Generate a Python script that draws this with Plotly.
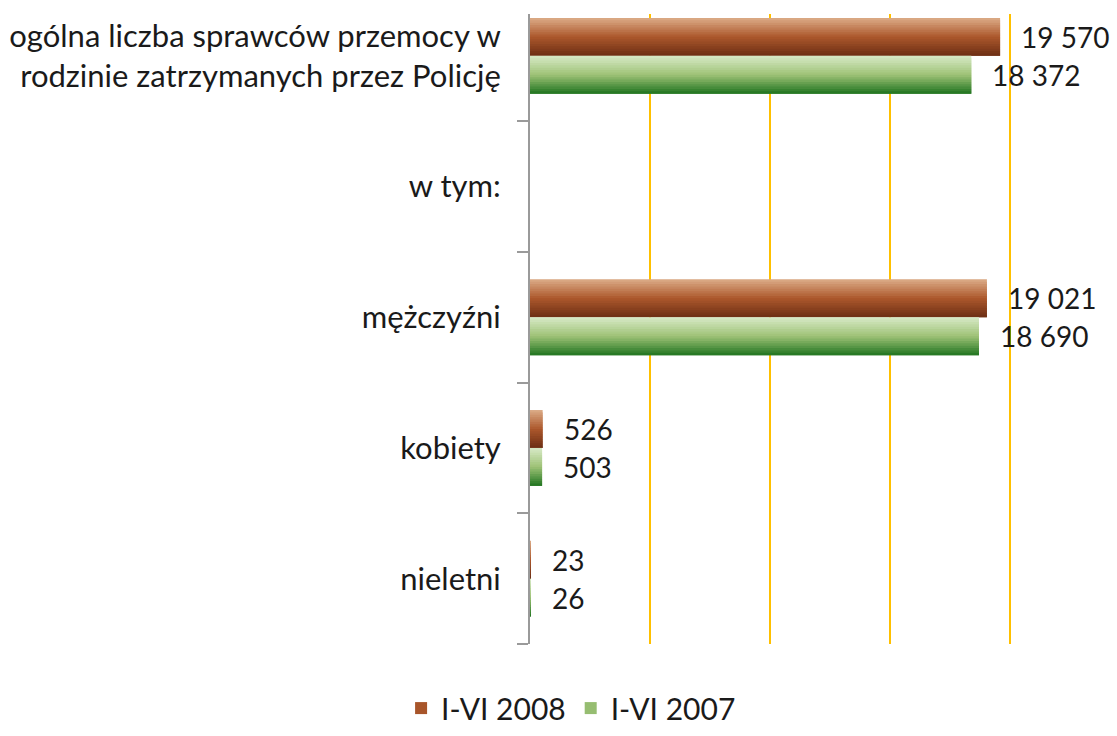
import plotly.graph_objects as go

# ---- data ----
categories = [
    "ogólna liczba sprawców przemocy w<br>rodzinie zatrzymanych przez Policję",
    "w tym:",
    "mężczyźni",
    "kobiety",
    "nieletni",
]
values_2008 = [19570, None, 19021, 526, 23]
values_2007 = [18372, None, 18690, 503, 26]
series_names = ["I-VI 2008", "I-VI 2007"]
grid_values = [5000, 10000, 15000, 20000]

# ---- styling ----
FONT = "Lato, Carlito, Calibri, 'Open Sans', sans-serif"
brown_stops = [(0.0, (220, 172, 136)), (0.5, (172, 88, 44)), (1.0, (108, 46, 20))]
green_stops = [(0.0, (216, 234, 200)), (0.5, (158, 194, 118)), (1.0, (32, 116, 32))]
BAR_T = 0.29          # thickness of one bar (category units)
N_SLICES = 16


def interp(stops, t):
    for (t0, c0), (t1, c1) in zip(stops[:-1], stops[1:]):
        if t0 <= t <= t1:
            f = (t - t0) / (t1 - t0) if t1 > t0 else 0
            return "rgb(%d,%d,%d)" % tuple(round(a + (b - a) * f) for a, b in zip(c0, c1))
    return "rgb(%d,%d,%d)" % stops[-1][1]


axis_order = list(reversed(categories))  # bottom -> top
fig = go.Figure()

series = [
    (series_names[0], values_2008, brown_stops, 0.0),       # bar above category center
    (series_names[1], values_2007, green_stops, -BAR_T),    # bar below category center
]

w = BAR_T / N_SLICES
for name, vals, stops, base in series:
    for j in range(N_SLICES):
        t = (j + 0.5) / N_SLICES
        top = base + BAR_T - j * w
        height = w * 2 if j < N_SLICES - 1 else w
        fig.add_trace(go.Bar(
            x=vals, y=categories, orientation="h",
            width=height, offset=top - height,
            marker=dict(color=interp(stops, t), line=dict(width=0)),
            name=name, legendgroup=name,
            showlegend=(j == N_SLICES // 2),
            hoverinfo="skip",
        ))

# value labels
for name, vals, stops, base in series:
    for cat, v in zip(categories, vals):
        if v is None:
            continue
        idx = axis_order.index(cat)
        fig.add_annotation(
            x=v, y=idx + base + BAR_T / 2,
            xref="x", yref="y",
            text=f"{v:,}".replace(",", " "),
            showarrow=False, xanchor="left", yanchor="middle",
            xshift=19,
            font=dict(family=FONT, size=28, color="#1a1a1a"),
        )

fig.update_layout(
    width=1117, height=736,
    autosize=False,
    margin=dict(l=530, r=0, t=14, b=92),
    paper_bgcolor="white", plot_bgcolor="white",
    barmode="overlay",
    font=dict(family=FONT, size=30, color="#1a1a1a"),
    showlegend=True,
    legend=dict(
        orientation="h", x=0.07, xanchor="center",
        y=-0.143, yanchor="bottom",
        font=dict(family=FONT, size=30, color="#1a1a1a"),
        traceorder="normal", itemwidth=30,
        bgcolor="rgba(0,0,0,0)",
    ),
)

fig.update_xaxes(
    range=[0, 24437],
    tickmode="array", tickvals=grid_values,
    showticklabels=False,
    showgrid=True, gridcolor="#FFC000", gridwidth=1.5,
    zeroline=False, showline=False, ticks="",
    automargin=False,
)

fig.update_yaxes(
    type="category",
    categoryorder="array", categoryarray=axis_order,
    range=[-0.5, 4.32],
    tickson="boundaries",
    ticks="outside", ticklen=11, tickwidth=2, tickcolor="#9a9a9a",
    showline=True, linecolor="#9a9a9a", linewidth=2,
    showgrid=False, zeroline=False,
    ticklabelstandoff=21,
    tickfont=dict(family=FONT, size=31, color="#1a1a1a"),
    automargin=False,
)

fig.write_html(
    "out.html",
    config={"displayModeBar": False},
    post_script="document.body.style.margin='0';document.body.style.overflow='hidden';",
)
